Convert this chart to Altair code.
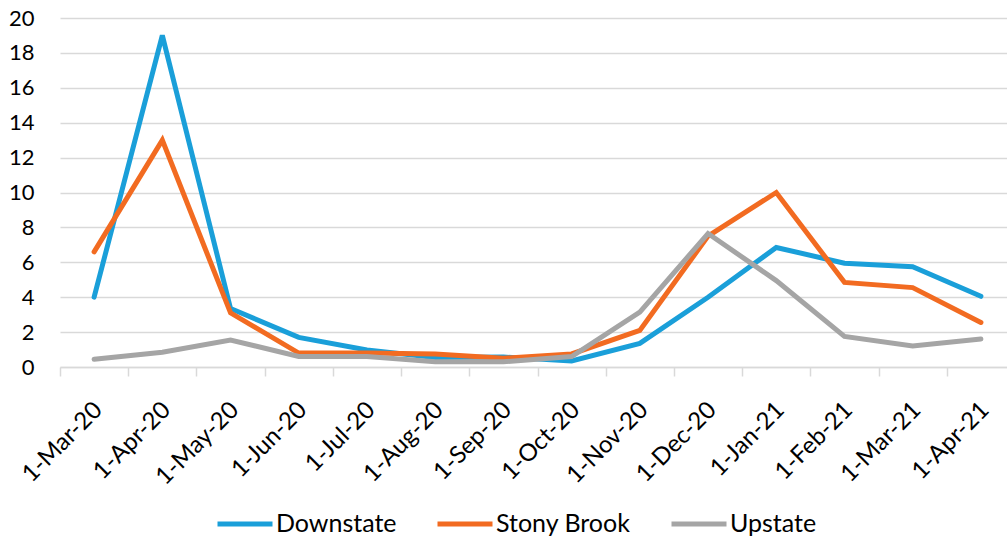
import altair as alt
import pandas as pd

months = ["1-Mar-20", "1-Apr-20", "1-May-20", "1-Jun-20", "1-Jul-20", "1-Aug-20", "1-Sep-20",
          "1-Oct-20", "1-Nov-20", "1-Dec-20", "1-Jan-21", "1-Feb-21", "1-Mar-21", "1-Apr-21"]
downstate = [4.0, 19.0, 3.35, 1.7, 0.97, 0.55, 0.57, 0.35, 1.35, 4.0, 6.85, 5.95, 5.75, 4.05]
stony_brook = [6.6, 13.0, 3.1, 0.8, 0.8, 0.75, 0.5, 0.75, 2.1, 7.5, 10.0, 4.85, 4.55, 2.55]
upstate = [0.45, 0.85, 1.55, 0.6, 0.6, 0.3, 0.3, 0.6, 3.15, 7.65, 4.95, 1.75, 1.2, 1.6]
series = ["Downstate", "Stony Brook", "Upstate"]
colors = ["#1a9fd9", "#f26b21", "#a5a5a5"]
y_ticks = list(range(0, 21, 2))

rows = []
for name, vals in zip(series, [downstate, stony_brook, upstate]):
    for m, v in zip(months, vals):
        rows.append({"Month": m, "Series": name, "Value": v})
df = pd.DataFrame(rows)

FONT = "Lato"

chart = alt.Chart(df).mark_line(strokeWidth=5, strokeCap="round", strokeJoin="miter").encode(
    x=alt.X("Month:N", sort=months, bandPosition=0.5,
            scale=alt.Scale(type="band", paddingInner=0, paddingOuter=0, range=[0, 955]),
            axis=alt.Axis(title=None, labelAngle=-45, labelAlign="right", labelBaseline="middle",
                          labelFontSize=24, labelFont=FONT, labelColor="#000000",
                          labelPadding=30, labelOffset=4, tickBand="extent", tickSize=9,
                          tickColor="#d9d9d9", tickWidth=1.5, domainColor="#d9d9d9",
                          domainWidth=1.5, grid=False)),
    y=alt.Y("Value:Q", scale=alt.Scale(domain=[0, 20], nice=False),
            axis=alt.Axis(title=None, values=y_ticks, labelFontSize=22, labelFont=FONT,
                          labelColor="#000000", labelPadding=26, ticks=False, domain=False,
                          gridColor="#d9d9d9", gridWidth=1.5)),
    color=alt.Color("Series:N", sort=series,
                    scale=alt.Scale(domain=series, range=colors),
                    legend=alt.Legend(title=None, orient="none", direction="horizontal",
                                      legendX=155, legendY=476, symbolType="stroke",
                                      symbolSize=3025, symbolStrokeWidth=5,
                                      labelFontSize=25, labelFont=FONT, labelColor="#000000",
                                      columnPadding=30, labelOffset=1)),
).properties(
    width=947, height=349,
    autosize=alt.AutoSizeParams(type="none"),
    padding={"left": 60, "top": 18, "right": 0, "bottom": 175},
).configure_view(stroke=None)

chart.save("out.html", embed_options={"renderer": "svg", "actions": False})
